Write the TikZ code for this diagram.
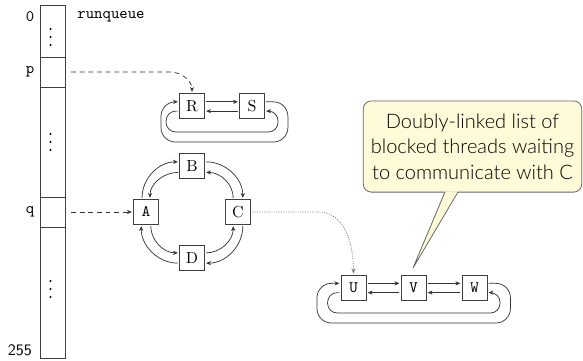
\documentclass[tikz,border=0pt]{standalone}
\usepackage{fontspec}
\newfontfamily\calloutfont{Lato Light}
\usetikzlibrary{arrows.meta}
\definecolor{notefill}{RGB}{255,250,216}
\tikzset{
  cell/.style={draw=black!75, line width=0.5pt, minimum width=15.625pt, inner sep=0pt, outer sep=0pt},
  thread/.style={draw=black!75, line width=0.5pt, minimum width=15.625pt, minimum height=15.625pt, inner sep=0pt},
  link/.style={draw=black!80, line width=0.45pt, -{Stealth[length=3pt,width=2.6pt]}, shorten >=0.8pt, shorten <=0.8pt},
  ptr/.style={link, dash pattern=on 3pt off 2.4pt},
  dotptr/.style={link, draw=black!55, dash pattern=on 0.6pt off 0.9pt},
  lbl/.style={inner sep=0pt, font=\ttfamily},
  ellip/.style={fill=black, circle, inner sep=0pt, minimum size=1.4pt},
}
\begin{document}
\begin{tikzpicture}[x=0.625pt, y=-0.625pt]
  \useasboundingbox (0,0) rectangle (583,360);

  % runqueue column
  \node[cell, minimum height=32.5pt]  (c0)   at (52.5,31)    {};
  \node[cell, minimum height=18.75pt] (cp)   at (52.5,72)    {};
  \node[cell, minimum height=68.75pt] (cmid) at (52.5,142)   {};
  \node[cell, minimum height=18.75pt] (cq)   at (52.5,212)   {};
  \node[cell, minimum height=81.9pt]  (cend) at (52.5,292.5) {};
  % vertical ellipses inside the elided cells
  \foreach \y in {29,37,45, 134,142,150, 281,289,297}
    \node[ellip] at (50.5,\y) {};
  \node[lbl] (l0)   at (30,17)  {0};
  \node[lbl] (lp)   at (30,72)  {p};
  \node[lbl] (lq)   at (30,212) {q};
  \node[inner sep=0pt, font=\sffamily] (l255) at (20,350) {255};
  \node[lbl] (title) at (111,17) {runqueue};

  % list hanging off p
  \node[thread] (R) at (192,106) {R};
  \node[thread] (S) at (252,106) {S};
  \draw[link] ([yshift=2.6pt]R.east) -- ([yshift=2.6pt]S.west);
  \draw[link] ([yshift=-3.2pt]S.west) -- ([yshift=-3.2pt]R.east);
  \draw[link, rounded corners=9pt] ([yshift=2.6pt]S.east) -- ++(23,0) |- (161,142) |- ([yshift=2.6pt]R.west);
  \draw[link, rounded corners=6pt] ([yshift=-3.2pt]R.west) -- ++(-13,0) |- (278,132) |- ([yshift=-3.2pt]S.east);

  % ring hanging off q
  \node[thread, font=\ttfamily] (A) at (146,212) {A};
  \node[thread] (B) at (192,166) {B};
  \node[thread] (C) at (238,212) {C};
  \node[thread] (D) at (192,258) {D};
  \draw[link] ([xshift=-2.5pt]A.north) to[out=90,in=180] ([yshift=2.6pt]B.west);
  \draw[link] ([yshift=-4pt]B.west) to[out=180,in=90] ([xshift=2.5pt]A.north);
  \draw[link] ([yshift=2.6pt]B.east) to[out=0,in=90] ([xshift=3pt]C.north);
  \draw[link] ([xshift=-3pt]C.north) to[out=90,in=0] ([yshift=-4pt]B.east);
  \draw[link] ([xshift=3pt]C.south) to[out=-90,in=0] ([yshift=-3.2pt]D.east);
  \draw[link] ([yshift=3.2pt]D.east) to[out=0,in=-90] ([xshift=-3pt]C.south);
  \draw[link] ([yshift=-3.2pt]D.west) to[out=180,in=-90] ([xshift=-3pt]A.south);
  \draw[link] ([xshift=3pt]A.south) to[out=-90,in=180] ([yshift=3.2pt]D.west);

  % blocked threads
  \node[thread, font=\ttfamily] (U) at (353.5,287.5) {U};
  \node[thread, font=\ttfamily] (V) at (413.5,287.5) {V};
  \node[thread, font=\ttfamily] (W) at (474.5,287.5) {W};
  \draw[link] ([yshift=2.6pt]U.east) -- ([yshift=2.6pt]V.west);
  \draw[link] ([yshift=2.6pt]V.east) -- ([yshift=2.6pt]W.west);
  \draw[link] ([yshift=-3.2pt]W.west) -- ([yshift=-3.2pt]V.east);
  \draw[link] ([yshift=-3.2pt]V.west) -- ([yshift=-3.2pt]U.east);
  \draw[link, rounded corners=9pt] ([yshift=2.6pt]W.east) -- ++(23,0) |- (317,323) |- ([yshift=2.6pt]U.west);
  \draw[link, rounded corners=6pt] ([yshift=-3.2pt]U.west) -- ++(-13,0) |- (500,313) |- ([yshift=-3.2pt]W.east);

  % pointers out of the runqueue
  \coordinate (pbend) at (170,72);
  \coordinate (cbend) at (318,212);
  \draw[ptr] ([xshift=3pt]cp.east) -- (pbend) to[out=0,in=90] (R.north);
  \draw[ptr] ([xshift=3pt]cq.east) -- (A.west);
  \draw[dotptr] (C.east) -- (cbend) to[out=0,in=90] (U.north);

  % callout
  \node[draw=black!60, line width=0.5pt, fill=notefill, rounded corners=5pt,
        minimum width=136.5pt, minimum height=57pt, inner sep=0pt,
        align=center, font=\calloutfont\fontsize{12.5}{16}\selectfont] (note) at (472.5,146.5)
        {Doubly-linked list of\\blocked threads waiting\\to communicate with C};
  \coordinate (tip) at (413,268);
  \coordinate (pl) at (445,192);
  \coordinate (pr) at (458,192);
  \fill[notefill] ([yshift=0.4pt]pl) -- (tip) -- ([yshift=0.4pt]pr) -- cycle;
  \draw[black!60, line width=0.5pt] (pl) -- (tip) -- (pr);
\end{tikzpicture}
\end{document}
